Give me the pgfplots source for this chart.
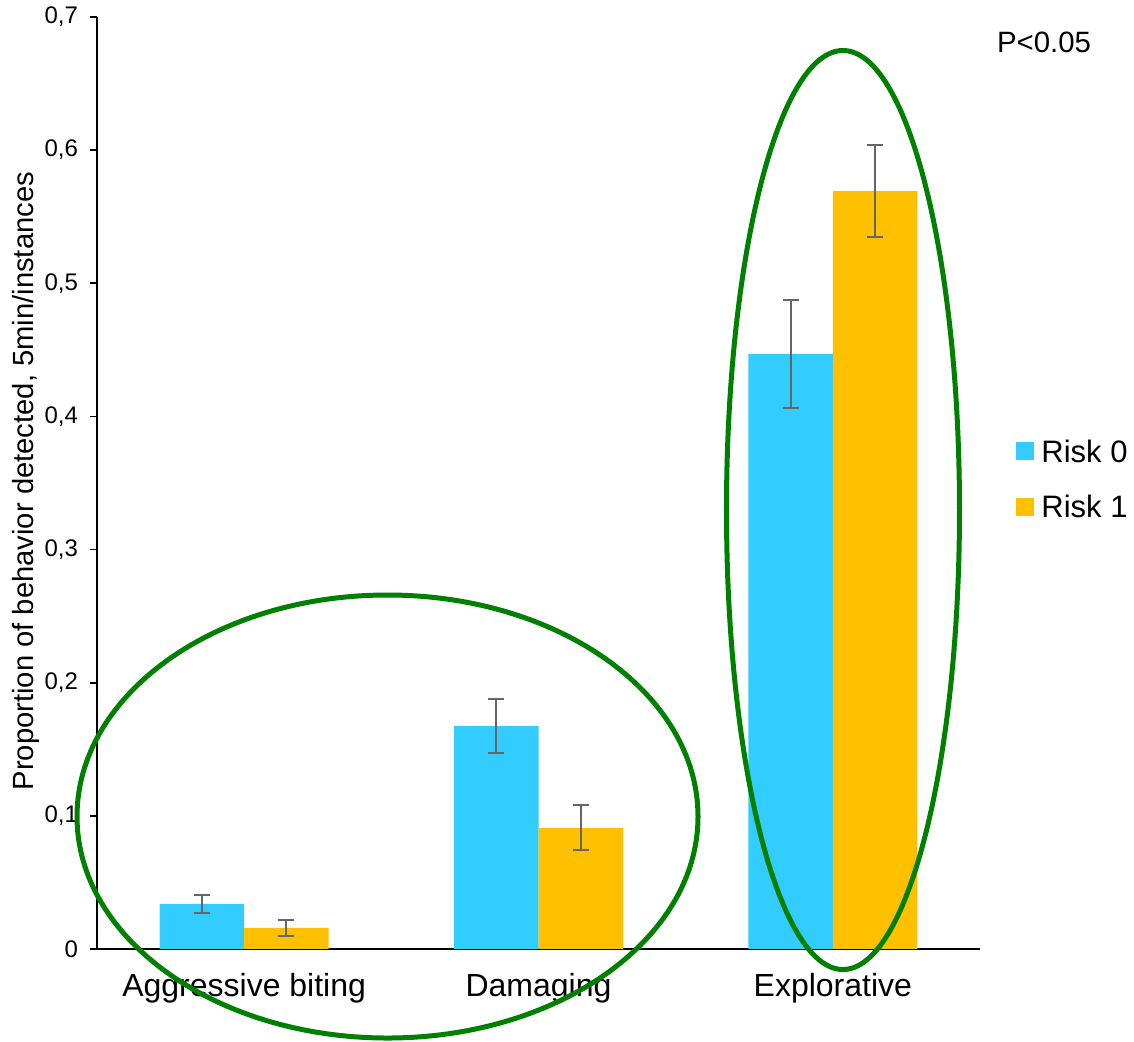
\documentclass[border=0pt]{standalone}
\usepackage{fontspec}
\setmainfont{Liberation Sans}
\usepackage{pgfplots}
\pgfplotsset{compat=1.18}
\definecolor{riskblue}{HTML}{33CCFF}
\definecolor{riskorange}{HTML}{FFC000}
\definecolor{errgray}{HTML}{666666}
\definecolor{ringgreen}{HTML}{008000}
\begin{document}
\begin{tikzpicture}
\useasboundingbox (-48.5pt,-46.5pt) rectangle (518.5pt,474.5pt);
\begin{axis}[
  at={(0,0)}, anchor=south west,
  scale only axis, width=441.5pt, height=466pt,
  ybar=0pt, bar width=42.25pt,
  xmin=-0.5, xmax=2.5, ymin=0, ymax=0.7,
  axis x line*=bottom, axis y line*=left,
  axis line style={black, line width=0.8pt},
  xtick={0,1,2},
  xticklabels={Aggressive biting, Damaging, Explorative},
  major x tick style={draw=none},
  ytick={0,0.1,0.2,0.3,0.4,0.5,0.6,0.7},
  /pgf/number format/fixed, /pgf/number format/precision=1,
  /pgf/number format/use comma, /pgf/number format/assume math mode=true,
  yticklabel style={font=\fontsize{12pt}{14pt}\selectfont, xshift=-2.5pt},
  xticklabel style={font=\fontsize{16pt}{19pt}\selectfont, yshift=-5pt},
  tick align=outside, major tick length=3.5pt,
  major y tick style={black, line width=0.8pt},
  ylabel={Proportion of behavior detected, 5min/instances},
  every axis y label/.style={at={(axis description cs:-0.0804,0.502)}, rotate=90, anchor=center, font=\fontsize{14.6pt}{17pt}\selectfont},
  legend style={draw=none, fill=none, at={(axis description cs:1.0408,0.503)}, anchor=west, inner sep=0pt, row sep=11pt, font=\fontsize{15.5pt}{18pt}\selectfont},
  legend cell align=left,
  clip=false,
  error bars/error bar style={errgray, line width=1pt},
  error bars/error mark options={errgray, rotate=90, mark size=4pt, line width=1pt},
]
\addplot[fill=riskblue, draw=none, legend image code/.code={\fill[riskblue] (0pt,-4pt) rectangle (9pt,5pt); \path (10.5pt,0pt);},
  error bars/.cd, y dir=both, y explicit]
  coordinates {(0,0.0338) +- (0,0.0071) (1,0.1675) +- (0,0.0200) (2,0.4469) +- (0,0.0407)};
\addplot[fill=riskorange, draw=none, legend image code/.code={\fill[riskorange] (0pt,-4pt) rectangle (9pt,5pt); \path (10.5pt,0pt);},
  error bars/.cd, y dir=both, y explicit]
  coordinates {(0,0.0158) +- (0,0.0060) (1,0.0909) +- (0,0.0169) (2,0.5693) +- (0,0.0344)};
\legend{Risk 0, Risk 1}
\node[font=\fontsize{14.7pt}{17pt}\selectfont] at (axis description cs:1.0725,0.9732) {P<0.05};
\coordinate (e1) at (axis cs:0.487,0.0995);
\coordinate (e2) at (axis cs:2.0345,0.3297);
\end{axis}
\draw[ringgreen, line width=2.5pt] (e1) ellipse [x radius=155.25pt, y radius=110.75pt];
\draw[ringgreen, line width=2.5pt] (e2) ellipse [x radius=58.25pt, y radius=229.75pt];
\end{tikzpicture}
\end{document}
